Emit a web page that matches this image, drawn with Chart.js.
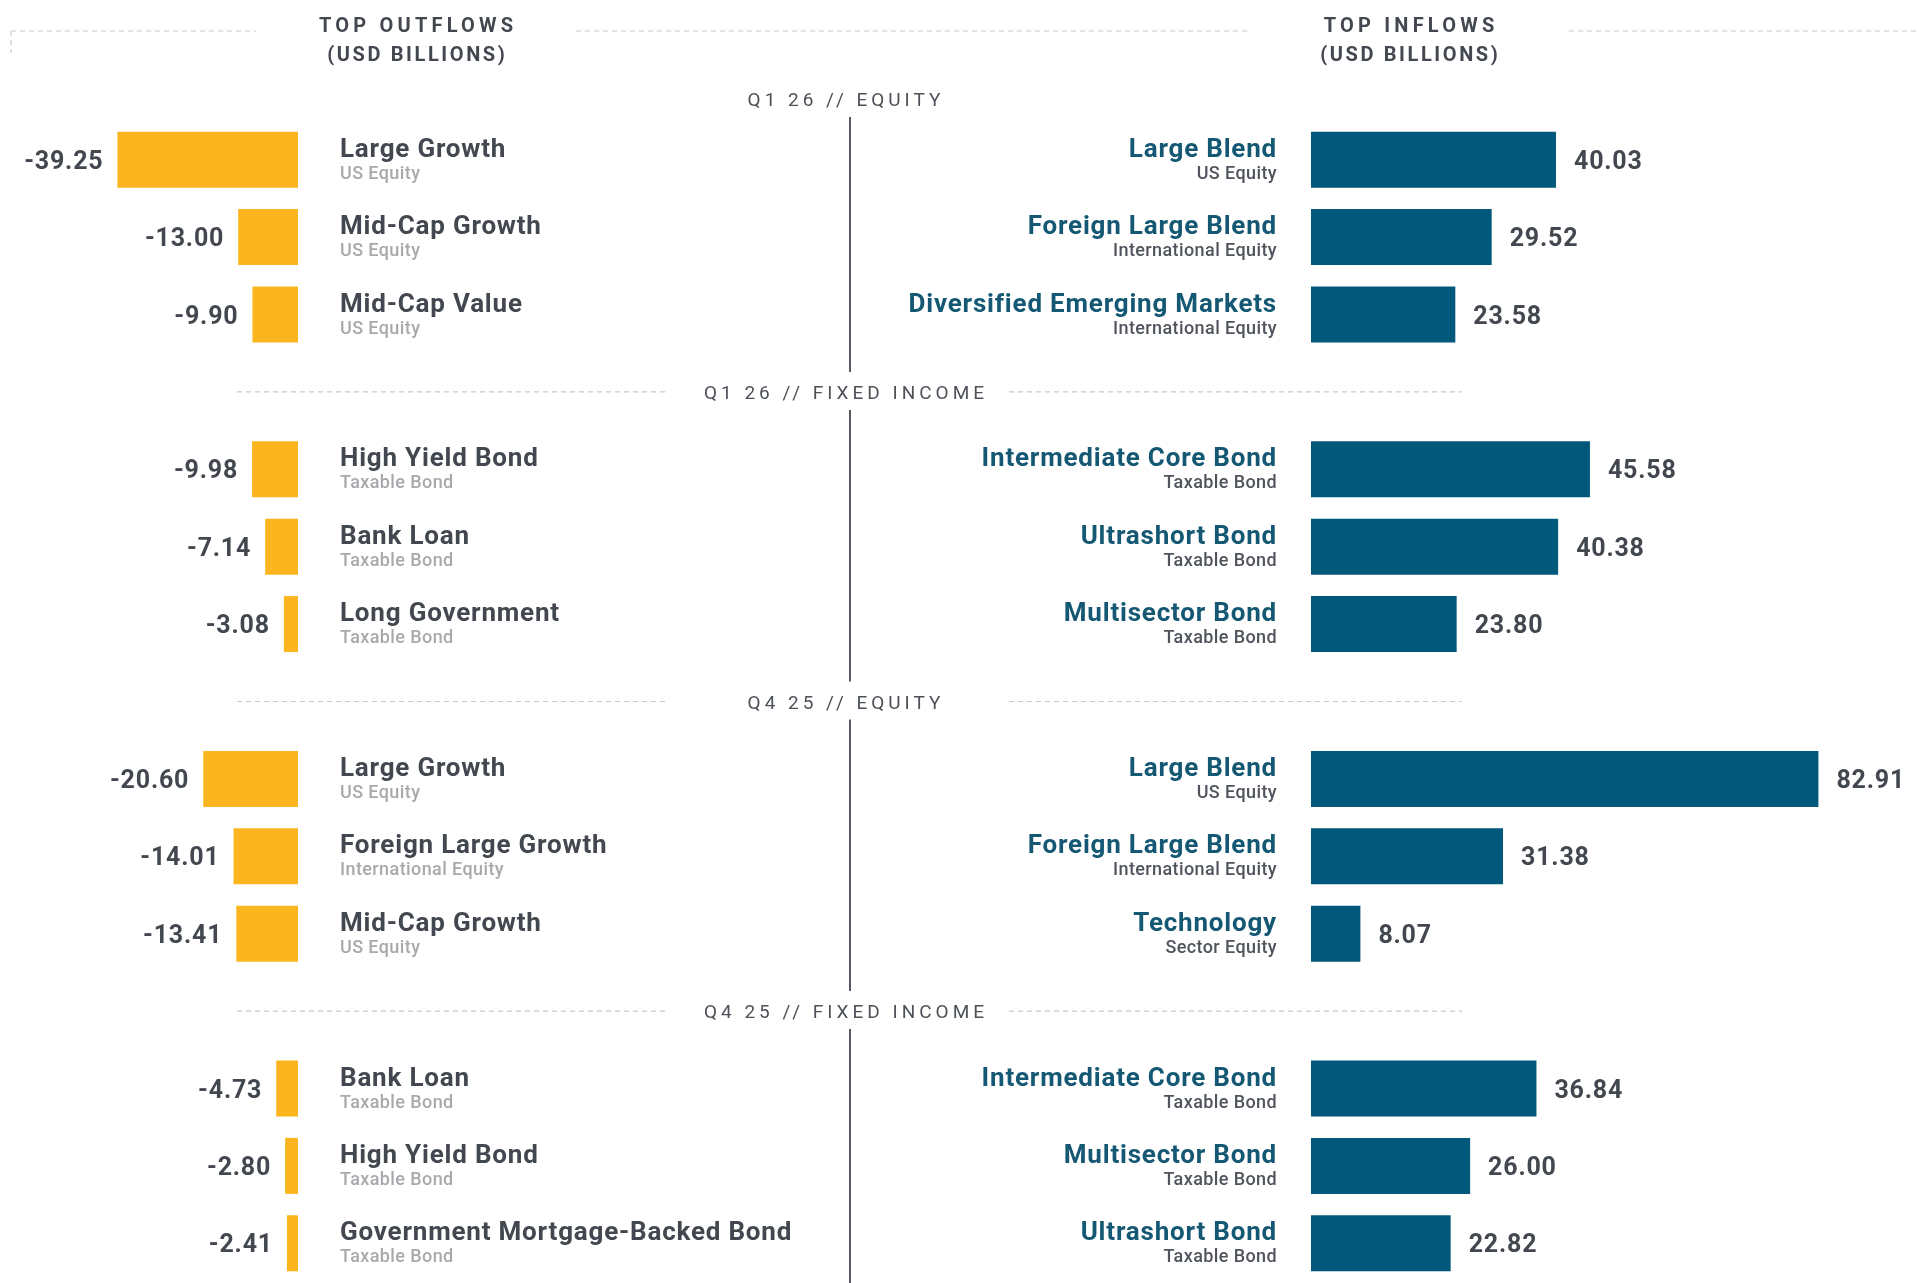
<!DOCTYPE html>
<html>
<head>
<meta charset="utf-8">
<script src="https://cdn.jsdelivr.net/npm/chart.js@4"></script>
<style>
  html, body { margin: 0; padding: 0; background: #fff; }
  #wrap { position: relative; width: 1917px; height: 1283px; }
</style>
</head>
<body>
<div id="wrap"><canvas id="flows"></canvas></div>
<script>
// ===== data =====
const sectionTitles = ['Q1 26 // EQUITY', 'Q1 26 // FIXED INCOME', 'Q4 25 // EQUITY', 'Q4 25 // FIXED INCOME'];

// top outflows, 3 per section
const outflowNames = [
    'Large Growth', 'Mid-Cap Growth', 'Mid-Cap Value',
    'High Yield Bond', 'Bank Loan', 'Long Government',
    'Large Growth', 'Foreign Large Growth', 'Mid-Cap Growth',
    'Bank Loan', 'High Yield Bond', 'Government Mortgage-Backed Bond'
];
const outflowTypes = [
    'US Equity', 'US Equity', 'US Equity',
    'Taxable Bond', 'Taxable Bond', 'Taxable Bond',
    'US Equity', 'International Equity', 'US Equity',
    'Taxable Bond', 'Taxable Bond', 'Taxable Bond'
];
const outflowValues = [-39.25, -13.00, -9.90, -9.98, -7.14, -3.08, -20.60, -14.01, -13.41, -4.73, -2.80, -2.41];

// top inflows, 3 per section
const inflowNames = [
    'Large Blend', 'Foreign Large Blend', 'Diversified Emerging Markets',
    'Intermediate Core Bond', 'Ultrashort Bond', 'Multisector Bond',
    'Large Blend', 'Foreign Large Blend', 'Technology',
    'Intermediate Core Bond', 'Multisector Bond', 'Ultrashort Bond'
];
const inflowTypes = [
    'US Equity', 'International Equity', 'International Equity',
    'Taxable Bond', 'Taxable Bond', 'Taxable Bond',
    'US Equity', 'International Equity', 'Sector Equity',
    'Taxable Bond', 'Taxable Bond', 'Taxable Bond'
];
const inflowValues = [40.03, 29.52, 23.58, 45.58, 40.38, 23.80, 82.91, 31.38, 8.07, 36.84, 26.00, 22.82];

// ===== rows: 3 per section, an empty row between sections for the header =====
const rowItem = [];    // index into the arrays above, or null for a gap row
const headerRows = []; // row index of each section header (first one sits above the chart)
sectionTitles.forEach((t, s) => {
    if (s > 0) { headerRows.push(rowItem.length); rowItem.push(null); }
    for (let r = 0; r < 3; r++) rowItem.push(s * 3 + r);
});
const rowLabels = rowItem.map(i => i === null ? '' : outflowNames[i] + ' / ' + inflowNames[i]);
const outData = rowItem.map(i => i === null ? null : outflowValues[i]);
const inData = rowItem.map(i => i === null ? null : inflowValues[i]);

// ===== layout =====
const W = 1917;
const OUT_ZERO = 298, OUT_PX = 4.6;   // outflow bars grow left from here
const IN_ZERO = 1311, IN_PX = 6.12;   // inflow bars grow right from here
const MID_X = 850;

const C_ORANGE = '#fbb61f';
const C_TEAL = '#02587a';
const C_TEAL_TXT = '#145873';
const C_DARK = '#43474f';
const C_SUB = '#50545c';
const C_LIGHT = '#a7a9ac';
const C_DASH = '#c9c9c9';
const FONT = 'Roboto, "DejaVu Sans", sans-serif';

function dashed(ctx, x1, y1, x2, y2) {
    ctx.save();
    ctx.strokeStyle = C_DASH;
    ctx.lineWidth = 1.2;
    ctx.setLineDash([5, 4]);
    ctx.beginPath();
    ctx.moveTo(x1, y1);
    ctx.lineTo(x2, y2);
    ctx.stroke();
    ctx.restore();
}

function spaced(ctx, text, x, y, font, color, spacing, align) {
    ctx.save();
    ctx.font = font;
    ctx.fillStyle = color;
    ctx.letterSpacing = spacing + 'px';
    ctx.textAlign = align || 'center';
    ctx.textBaseline = 'alphabetic';
    // trailing spacing shifts centred text, compensate
    ctx.fillText(text, x + (align ? 0 : spacing / 2), y);
    ctx.restore();
}

const flowLabels = {
    id: 'flowLabels',
    afterDatasetsDraw(chart) {
        const { ctx, chartArea, scales: { y } } = chart;
        const outMeta = chart.getDatasetMeta(0);
        const inMeta = chart.getDatasetMeta(1);

        // column headers
        const headFont = '700 20px ' + FONT;
        spaced(ctx, 'TOP OUTFLOWS', 416, 32, headFont, C_DARK, 4.2);
        spaced(ctx, '(USD BILLIONS)', 416, 61, headFont, C_DARK, 2.6);
        spaced(ctx, 'TOP INFLOWS', 1409, 32, headFont, C_DARK, 4.2);
        spaced(ctx, '(USD BILLIONS)', 1409, 61, headFont, C_DARK, 2.6);
        dashed(ctx, 11, 31, 256, 31);
        dashed(ctx, 576, 31, 1248, 31);
        dashed(ctx, 1569, 31, W, 31);
        dashed(ctx, 11, 31, 11, 53);

        // section headers + centre divider
        const headerY = [chartArea.top - 22].concat(headerRows.map(r => y.getPixelForValue(r)));
        const secFont = '400 19px ' + FONT;
        headerY.forEach((hy, s) => {
            spaced(ctx, sectionTitles[s], 844, hy + 7, secFont, '#4d5158', 4);
            if (s > 0) {
                dashed(ctx, 237, hy, 669, hy);
                dashed(ctx, 1009, hy, 1462, hy);
            }
            const y2 = s < headerY.length - 1 ? headerY[s + 1] - 20 : chart.height;
            ctx.save();
            ctx.strokeStyle = '#555a62';
            ctx.lineWidth = 2;
            ctx.beginPath();
            ctx.moveTo(MID_X, hy + 18);
            ctx.lineTo(MID_X, y2);
            ctx.stroke();
            ctx.restore();
        });

        // row texts
        rowItem.forEach((it, r) => {
            if (it === null) return;
            const cy = y.getPixelForValue(r);
            const ob = outMeta.data[r];
            const ib = inMeta.data[r];

            ctx.save();
            ctx.textBaseline = 'alphabetic';

            // values
            ctx.font = '700 25px ' + FONT;
            ctx.letterSpacing = '0.8px';
            ctx.fillStyle = C_DARK;
            ctx.textAlign = 'right';
            ctx.fillText(outflowValues[it].toFixed(2), ob.x - 14, cy + 9);
            ctx.textAlign = 'left';
            ctx.fillText(inflowValues[it].toFixed(2), ib.x + 18, cy + 9);

            // outflow names (left aligned, right of the bars)
            ctx.textAlign = 'left';
            ctx.font = '700 26px ' + FONT;
            ctx.letterSpacing = '0.8px';
            ctx.fillStyle = C_DARK;
            ctx.fillText(outflowNames[it], OUT_ZERO + 42, cy - 3);
            ctx.font = '500 18px ' + FONT;
            ctx.letterSpacing = '0.4px';
            ctx.fillStyle = C_LIGHT;
            ctx.fillText(outflowTypes[it], OUT_ZERO + 42, cy + 19);

            // inflow names (right aligned, left of the bars)
            ctx.textAlign = 'right';
            ctx.font = '700 26px ' + FONT;
            ctx.letterSpacing = '0.8px';
            ctx.fillStyle = C_TEAL_TXT;
            ctx.fillText(inflowNames[it], IN_ZERO - 34, cy - 3);
            ctx.font = '500 18px ' + FONT;
            ctx.letterSpacing = '0.4px';
            ctx.fillStyle = C_SUB;
            ctx.fillText(inflowTypes[it], IN_ZERO - 34, cy + 19);
            ctx.restore();
        });
    }
};

new Chart(document.getElementById('flows'), {
    type: 'bar',
    data: {
        labels: rowLabels,
        datasets: [{
            label: 'Top outflows',
            data: outData,
            xAxisID: 'xOut',
            backgroundColor: C_ORANGE,
            grouped: false,
            categoryPercentage: 1,
            barPercentage: 0.724
        }, {
            label: 'Top inflows',
            data: inData,
            xAxisID: 'xIn',
            backgroundColor: C_TEAL,
            grouped: false,
            categoryPercentage: 1,
            barPercentage: 0.724
        }]
    },
    options: {
        indexAxis: 'y',
        responsive: true,
        maintainAspectRatio: false,
        animation: false,
        layout: { padding: { top: 121, bottom: 1, left: 0, right: 0 } },
        plugins: {
            legend: { display: false },
            tooltip: { enabled: false }
        },
        scales: {
            y: { type: 'category', display: false, offset: true },
            xOut: { type: 'linear', display: false, min: -OUT_ZERO / OUT_PX, max: (W - OUT_ZERO) / OUT_PX },
            xIn: { type: 'linear', display: false, min: -IN_ZERO / IN_PX, max: (W - IN_ZERO) / IN_PX }
        }
    },
    plugins: [flowLabels]
});
</script>
</body>
</html>
